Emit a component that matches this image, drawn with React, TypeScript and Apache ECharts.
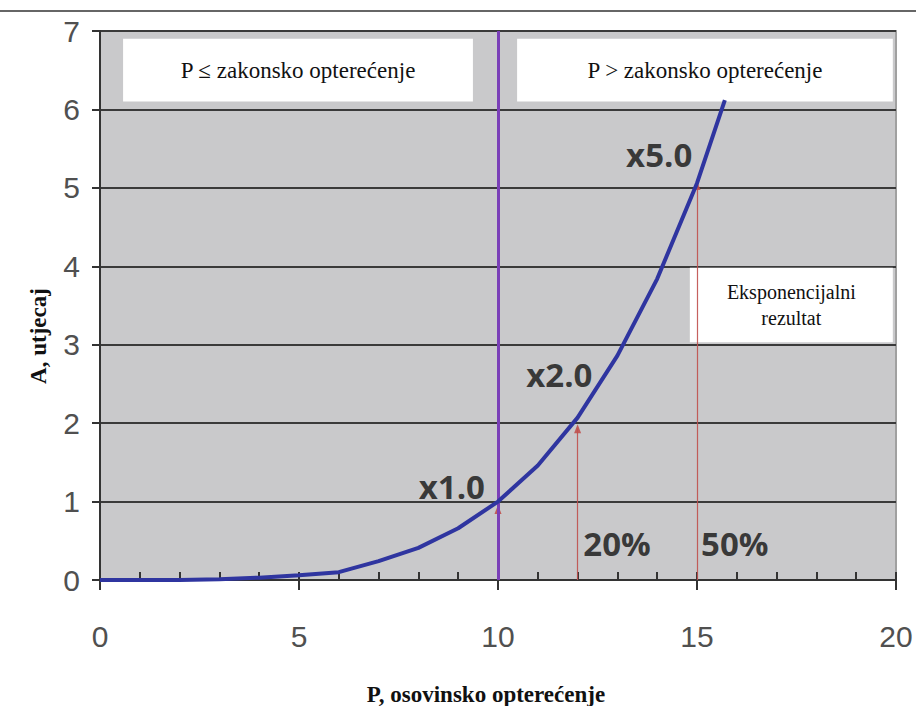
import React, { useEffect, useRef } from "react";
import * as echarts from "echarts";

// Data
const loadP: number[] = [0, 1, 2, 3, 4, 5, 6, 7, 8, 9, 10, 11, 12, 13, 14, 15, 15.7];
const impactA: number[] = [0, 0, 0, 0.01, 0.03, 0.06, 0.1, 0.24, 0.41, 0.66, 1, 1.46, 2.07, 2.86, 3.84, 5.06, 6.12];
const legalLoad = 10;
const arrowXs: number[] = [10, 12, 15];
const arrowTops: number[] = [0.9, 1.93, 5.03];
const factorLabels: string[] = ["x1.0", "x2.0", "x5.0"];
const factorPos: number[][] = [[8.84, 1.19], [11.54, 2.62], [14.05, 5.43]];
const pctLabels: string[] = ["20%", "50%"];
const pctPos: number[][] = [[12.99, 0.47], [15.95, 0.47]];
const boxTexts: string[] = ["P ≤ zakonsko opterećenje", "P > zakonsko opterećenje", "Eksponencijalni\nrezultat"];
const boxAreas: number[][][] = [
  [[0.58, 6.9], [9.37, 6.1]],
  [[10.48, 6.9], [19.92, 6.1]],
  [[14.82, 3.98], [19.92, 3.03]],
];
const xName = "P, osovinsko opterećenje";
const yName = "A, utjecaj";
const xTicks = { min: 0, max: 20, major: 5, minor: 1 };
const yTicks = { min: 0, max: 7, step: 1 };

export default function App() {
  const ref = useRef<HTMLDivElement>(null);
  useEffect(() => {
    if (!ref.current) return;
    const chart = echarts.init(ref.current, null, { renderer: "svg" });
    const labelFont = "'Open Sans', 'DejaVu Sans', sans-serif";
    const serif = "'Liberation Serif', 'DejaVu Serif', serif";
    const tickFont = "'Liberation Sans', Arial, sans-serif";
    chart.setOption({
      animation: false,
      backgroundColor: "#ffffff",
      grid: {
        left: 100, right: 20, top: 31, bottom: 126,
        show: true, backgroundColor: "#c9c9cb", borderColor: "#a0a0a0", borderWidth: 2,
      },
      graphic: [
        { type: "line", shape: { x1: 0, y1: 11, x2: 916, y2: 11 }, style: { stroke: "#333", lineWidth: 1.5 } },
        {
          type: "text", x: 38, y: 336, rotation: Math.PI / 2,
          style: { text: yName, fontFamily: serif, fontWeight: "bold", fontSize: 23, fill: "#111", align: "center", verticalAlign: "middle" },
        },
        {
          type: "text", x: 486, y: 694,
          style: { text: xName, fontFamily: serif, fontWeight: "bold", fontSize: 23, fill: "#111", align: "center", verticalAlign: "middle" },
        },
      ],
      xAxis: [
        {
          type: "value", min: xTicks.min, max: xTicks.max, interval: xTicks.minor,
          axisLine: { show: true, lineStyle: { color: "#333", width: 2 } },
          axisTick: { show: true, inside: true, length: 8, lineStyle: { color: "#333", width: 2 } },
          axisLabel: { show: false }, splitLine: { show: false },
        },
        {
          type: "value", min: xTicks.min, max: xTicks.max, interval: xTicks.major, position: "bottom",
          axisLine: { show: false },
          axisTick: { show: true, inside: false, length: 10, lineStyle: { color: "#333", width: 2 } },
          axisLabel: { show: true, color: "#505050", fontSize: 30, fontFamily: tickFont, margin: 41 },
          splitLine: { show: false },
        },
      ],
      yAxis: {
        type: "value", min: yTicks.min, max: yTicks.max, interval: yTicks.step,
        axisLine: { show: true, lineStyle: { color: "#333", width: 2 } },
        axisTick: { show: true, inside: false, length: 8, lineStyle: { color: "#333", width: 2 } },
        axisLabel: { color: "#505050", fontSize: 30, fontFamily: tickFont, margin: 20 },
        splitLine: { show: true, lineStyle: { color: "#3a3a3a", width: 2 } },
      },
      series: [
        {
          type: "line", name: "arrows", xAxisIndex: 0, data: [], z: 2,
          markLine: {
            silent: true, symbol: ["none", "triangle"], symbolSize: [7, 9],
            label: { show: false },
            lineStyle: { color: "#c0504d", width: 1.2, type: "solid", opacity: 0.9 },
            data: arrowXs.map((x, i) => [{ coord: [x, 0] }, { coord: [x, arrowTops[i]] }]),
          },
        },
        {
          type: "line", name: "boxes", xAxisIndex: 0, data: [], z: 3,
          markArea: {
            silent: true,
            itemStyle: { color: "#ffffff", opacity: 1 },
            label: { show: true, position: "inside", color: "#111", fontFamily: serif, fontSize: 23, lineHeight: 26 },
            data: boxAreas.map((a, i) => [
              { coord: a[0], name: boxTexts[i], label: i === 2 ? { fontSize: 20, lineHeight: 26 } : { fontSize: 23 } },
              { coord: a[1] },
            ]),
          },
        },
        {
          type: "line", name: "limit", xAxisIndex: 0, data: [], z: 4,
          markLine: {
            silent: true, symbol: ["none", "none"], label: { show: false },
            lineStyle: { color: "#7a3fb8", width: 3, type: "solid" },
            data: [{ xAxis: legalLoad }],
          },
        },
        {
          type: "line", name: "A", xAxisIndex: 0, z: 5,
          data: loadP.map((p, i) => [p, impactA[i]]),
          showSymbol: false, symbol: "none",
          lineStyle: { color: "#2f35a0", width: 4 },
        },
        {
          type: "scatter", name: "labels", xAxisIndex: 0, z: 6, symbolSize: 0,
          data: [
            ...factorLabels.map((t, i) => ({ value: factorPos[i], name: t })),
            ...pctLabels.map((t, i) => ({ value: pctPos[i], name: t })),
          ],
          label: {
            show: true, position: "inside", formatter: (p: any) => p.name,
            color: "#111", fontSize: 33, fontWeight: "bold", fontFamily: labelFont,
          },
        },
      ],
    });
    return () => chart.dispose();
  }, []);
  return <div ref={ref} style={{ position: "absolute", left: 0, top: 0, width: 916, height: 706 }} />;
}
